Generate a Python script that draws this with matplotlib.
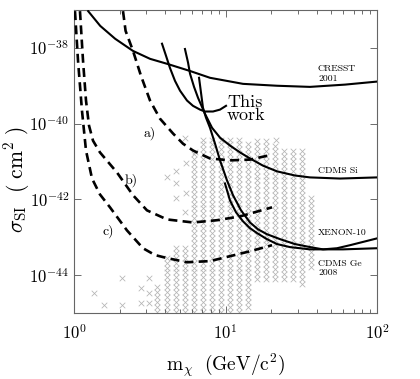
import numpy as np
import matplotlib
matplotlib.use("Agg")
import matplotlib.pyplot as plt
from matplotlib.ticker import LogLocator, NullLocator, FixedLocator, NullFormatter

plt.rcParams['mathtext.fontset'] = 'cm'
plt.rcParams['axes.unicode_minus'] = False

# ---------------- data (mass in GeV/c^2, log10 sigma in cm^2) ----------------
cresst_m = [1.24, 1.49, 1.87, 2.45, 3.18, 4.11, 5.83, 7.90, 13.05, 21.9, 36.1, 61.5, 100]
cresst_ls = [-37.03, -37.42, -37.76, -38.08, -38.29, -38.42, -38.61, -38.79, -38.95, -39.00, -39.03, -38.97, -38.89]

thiswork_m = [3.81, 4.05, 4.30, 4.64, 5.01, 5.57, 6.10, 6.79, 7.32, 8.27, 9.20, 10.08]
thiswork_ls = [-37.89, -38.21, -38.53, -38.87, -39.13, -39.39, -39.53, -39.63, -39.68, -39.68, -39.63, -39.53]

cdmssi_m = [5.40, 5.66, 5.83, 6.20, 6.59, 7.32, 8.15, 9.20, 10.71, 12.47, 14.51, 17.69, 21.88, 28.75, 36.13, 57.0, 100]
cdmssi_ls = [-38.03, -38.39, -38.68, -39.03, -39.32, -39.74, -40.11, -40.37, -40.58, -40.76, -40.92, -41.11, -41.26, -41.37, -41.42, -41.45, -41.42]

xenon_m = [6.69, 6.89, 7.10, 7.43, 7.90, 8.53, 9.20, 10.23, 11.21, 12.66, 14.51, 16.39, 18.79, 22.90, 28.75, 36.13, 44.02, 54.45, 66.33, 83.33, 100]
xenon_ls = [-38.79, -39.18, -39.58, -39.84, -40.11, -40.53, -40.97, -41.50, -41.89, -42.29, -42.61, -42.79, -42.92, -43.05, -43.18, -43.26, -43.32, -43.29, -43.21, -43.11, -43.03]

cdmsge_m = [9.92, 10.71, 11.73, 13.05, 14.51, 16.14, 18.79, 21.88, 26.65, 36.13, 59.66, 100]
cdmsge_ls = [-41.58, -42.03, -42.34, -42.58, -42.76, -42.89, -43.05, -43.18, -43.26, -43.32, -43.32, -43.29]

dash_a_m = [2.106, 2.19, 2.452, 2.769, 3.175, 3.696, 4.503, 5.243, 6.104, 7.901, 10.71, 14.51, 20.28]
dash_a_ls = [-37.03, -37.55, -38.08, -38.74, -39.39, -39.87, -40.26, -40.53, -40.71, -40.92, -40.97, -40.95, -40.82]

dash_b_m = [1.095, 1.147, 1.200, 1.256, 1.335, 1.484, 1.922, 2.452, 3.032, 4.111, 6.104, 8.788, 12.47, 20.28]
dash_b_ls = [-37.03, -38.34, -39.39, -40.05, -40.45, -40.76, -41.29, -41.89, -42.29, -42.53, -42.61, -42.55, -42.45, -42.21]

dash_c_m = [1.015, 1.063, 1.129, 1.200, 1.315, 1.484, 1.728, 2.238, 2.854, 3.424, 4.111, 5.571, 7.901, 10.71, 14.51, 20.28]
dash_c_ls = [-37.03, -38.34, -39.66, -40.71, -41.45, -41.87, -42.21, -42.82, -43.29, -43.47, -43.55, -43.66, -43.63, -43.50, -43.37, -43.21]

# model scan: columns of points (mass, top log sigma, bottom log sigma)
col_m = [3.53, 4.11, 4.71, 5.40, 6.20, 7.10, 8.15, 9.34, 10.71, 12.28, 14.08, 16.14, 18.51, 21.22, 24.33, 27.90, 31.99, 36.68]
col_top = [-44.21, -43.42, -43.21, -43.21, -40.71, -40.39, -40.39, -40.39, -40.39, -40.39, -40.45, -40.45, -40.45, -40.58, -40.66, -40.66, -40.71, -41.95]
col_bot = [-45.0, -45.0, -45.0, -45.0, -45.0, -45.0, -45.0, -45.0, -45.0, -45.0, -44.87, -44.13, -44.13, -44.13, -44.13, -44.13, -44.26, -43.82]
scan_step = 0.13
sparse_m = [1.355, 1.578, 2.074, 2.074, 2.769, 2.769, 3.126, 3.126, 3.126, 4.11, 4.713, 4.713, 4.713, 5.487, 5.487, 5.40, 5.40, 6.29, 21.54]
sparse_ls = [-44.47, -44.79, -44.08, -44.79, -44.34, -44.74, -44.08, -44.47, -44.74, -41.42, -41.24, -41.58, -41.97, -41.05, -41.82, -42.34, -40.39, -40.76, -40.42]

# ---------------- figure ----------------
fig = plt.figure(figsize=(4.2, 3.79), dpi=100)
ax = fig.add_axes([74/420, 1-313/379, (377-74)/420, (313-10)/379])
ax.set_xscale('log')
ax.set_yscale('log')
ax.set_xlim(1, 100)
ax.set_ylim(1e-45, 1e-37)

# scan points
px, py = [], []
for m, t, b in zip(col_m, col_top, col_bot):
    for v in np.arange(b + 0.03, t + 0.001, scan_step):
        px.append(m); py.append(10**v)
px += sparse_m
py += [10**v for v in sparse_ls]
ax.scatter(px, py, marker='x', s=16, c='#b4b4b4', linewidths=0.55, zorder=1)

def sig(ls):
    return [10**v for v in ls]

lw = 1.5
ax.plot(cresst_m, sig(cresst_ls), 'k-', lw=lw, zorder=3)
ax.plot(thiswork_m, sig(thiswork_ls), 'k-', lw=lw, zorder=3)
ax.plot(cdmssi_m, sig(cdmssi_ls), 'k-', lw=lw, zorder=3)
ax.plot(xenon_m, sig(xenon_ls), 'k-', lw=lw, zorder=3)
ax.plot(cdmsge_m, sig(cdmsge_ls), 'k-', lw=lw, zorder=3)
for mm, ll in [(dash_a_m, dash_a_ls), (dash_b_m, dash_b_ls), (dash_c_m, dash_c_ls)]:
    ax.plot(mm, sig(ll), 'k', lw=1.9, dashes=(3.4, 2.0), zorder=3)

# ticks
ax.yaxis.set_major_locator(FixedLocator([1e-44, 1e-42, 1e-40, 1e-38]))
ax.yaxis.set_minor_locator(NullLocator())
ax.xaxis.set_major_locator(FixedLocator([1, 10, 100]))
ax.xaxis.set_minor_locator(LogLocator(base=10, subs=np.arange(2, 10)))
ax.xaxis.set_minor_formatter(NullFormatter())
ax.set_xticklabels([r'$10^{0}$', r'$10^{1}$', r'$10^{2}$'])
ax.set_yticklabels([r'$10^{-44}$', r'$10^{-42}$', r'$10^{-40}$', r'$10^{-38}$'])
ax.tick_params(which='both', direction='in', top=True, right=True, labelsize=12, width=0.6, color='#555555')
ax.tick_params(which='major', length=5)
ax.tick_params(which='minor', length=3)
ax.tick_params(axis='x', pad=8)
for s in ax.spines.values():
    s.set_linewidth(0.8)
    s.set_color('#666666')

ax.set_xlabel(r'${\rm m}_{\chi}\ \ ({\rm GeV/c}^{2})$', fontsize=14, labelpad=6)
ax.set_ylabel(r'$\sigma_{\rm SI}\ \ (\ {\rm cm}^{2}\ )$', fontsize=15.5)
ax.yaxis.set_label_coords(-0.14, 0.44)

# annotations
tf = dict(family='cmr10', color='black')
ax.text(10**((318-74)/151.5), 10**(-44 + (275-73)/38), 'CRESST\n2001', fontsize=7, va='center', ha='left', linespacing=1.1, **tf)
ax.text(10**((318-74)/151.5), 10**(-44 + (275-170)/38), 'CDMS Si', fontsize=7, va='center', ha='left', **tf)
ax.text(10**((318-74)/151.5), 10**(-44 + (275-233)/38), 'XENON-10', fontsize=7, va='center', ha='left', **tf)
ax.text(10**((318-74)/151.5), 10**(-44 + (275-268)/38), 'CDMS Ge\n2008', fontsize=7, va='center', ha='left', linespacing=1.1, **tf)
ax.text(10**((227-74)/151.5), 10**(-44 + (275-108)/38), 'This\nwork', fontsize=13, va='center', ha='left', linespacing=0.85, **tf)
ax.text(10**((150-74)/151.5), 10**(-44 + (275-133)/38), 'a)', fontsize=10, va='center', ha='center', **tf)
ax.text(10**((131-74)/151.5), 10**(-44 + (275-180)/38), 'b)', fontsize=10, va='center', ha='center', **tf)
ax.text(10**((108-74)/151.5), 10**(-44 + (275-231)/38), 'c)', fontsize=10, va='center', ha='center', **tf)

fig.savefig('out.png', dpi=100)
